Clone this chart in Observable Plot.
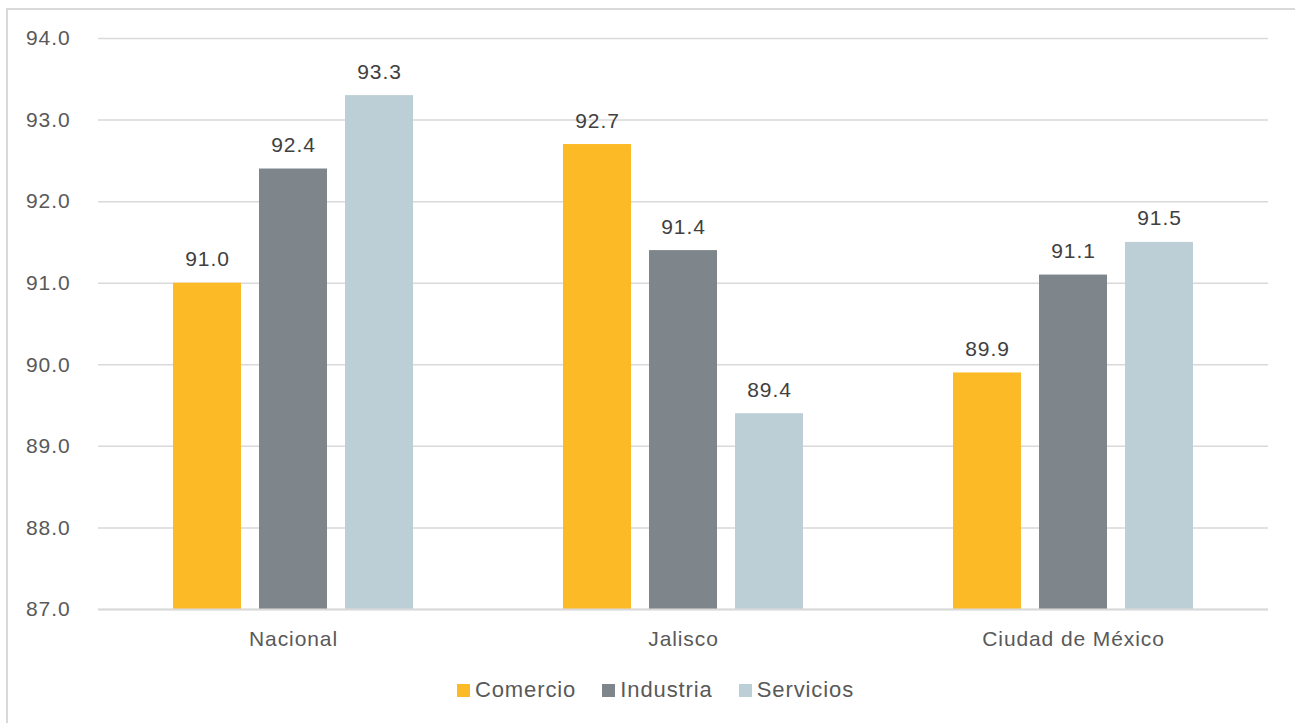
<!DOCTYPE html>
<html>
<head>
<meta charset="utf-8">
<script src="https://cdn.jsdelivr.net/npm/d3@7"></script>
<script src="https://cdn.jsdelivr.net/npm/@observablehq/plot@0.6"></script>
<style>
  html, body { margin: 0; padding: 0; background: #fff; width: 1295px; height: 723px; overflow: hidden; }
  #frame { position: absolute; left: 6px; top: 8px; width: 1320px; height: 760px; border: 2px solid #d9d9d9; box-sizing: border-box; }
  #chart { position: absolute; left: 0; top: 0; }
  #chart text { letter-spacing: 0.9px; }
  #legend { position: absolute; left: 0; top: 677px; width: 1311px; display: flex; justify-content: center; align-items: center;
            font-family: "Liberation Sans", Arial, sans-serif; font-size: 22px; letter-spacing: 0.9px; color: #595959; }
  .item { display: flex; align-items: center; margin: 0 13px; }
  .sw { width: 13px; height: 13px; margin-right: 5px; }
</style>
</head>
<body>
<div id="frame"></div>
<div id="chart"></div>
<div id="legend"></div>
<script>
const regions = ["Nacional", "Jalisco", "Ciudad de México"];
const sectors = ["Comercio", "Industria", "Servicios"];
const comercio = [91.0, 92.7, 89.9];
const industria = [92.4, 91.4, 91.1];
const servicios = [93.3, 89.4, 91.5];
const colors = ["#FBBA26", "#7E868B", "#BDCFD6"];
const yTicks = [87, 88, 89, 90, 91, 92, 93, 94];

const series = [comercio, industria, servicios];
const data = [];
regions.forEach((r, i) => sectors.forEach((s, j) => data.push({region: r, sector: s, value: series[j][i]})));

const chart = Plot.plot({
  width: 1295,
  height: 660,
  marginLeft: 98,
  marginRight: 27,
  marginTop: 38,
  marginBottom: 51,
  style: {fontFamily: "'Liberation Sans', Arial, sans-serif", fontSize: "21px", color: "#595959", background: "transparent"},
  fx: {domain: regions, padding: 0, axis: "bottom", label: null, tickSize: 0, tickPadding: 22},
  x: {domain: sectors, axis: null, paddingInner: 0.214, paddingOuter: 0.86},
  y: {domain: [87, 94], ticks: yTicks, tickFormat: d3.format(".1f"), label: null, tickSize: 0, tickPadding: 28},
  color: {domain: sectors, range: colors},
  marks: [
    Plot.ruleY(yTicks, {stroke: "#d9d9d9", strokeWidth: 1.5, facetAnchor: null}),
    Plot.barY(data, {fx: "region", x: "sector", y: "value", fill: "sector", clip: true}),
    Plot.text(data, {fx: "region", x: "sector", y: "value", text: d => d.value.toFixed(1), lineAnchor: "bottom", dy: -17, fill: "#404040", fontSize: 21}),
    Plot.ruleY([87], {stroke: "#d9d9d9", strokeWidth: 2})
  ]
});
document.getElementById("chart").appendChild(chart);

const legend = document.getElementById("legend");
sectors.forEach((s, i) => {
  const item = document.createElement("div");
  item.className = "item";
  const sw = document.createElement("span");
  sw.className = "sw";
  sw.style.background = colors[i];
  const t = document.createElement("span");
  t.textContent = s;
  item.appendChild(sw);
  item.appendChild(t);
  legend.appendChild(item);
});
</script>
</body>
</html>
